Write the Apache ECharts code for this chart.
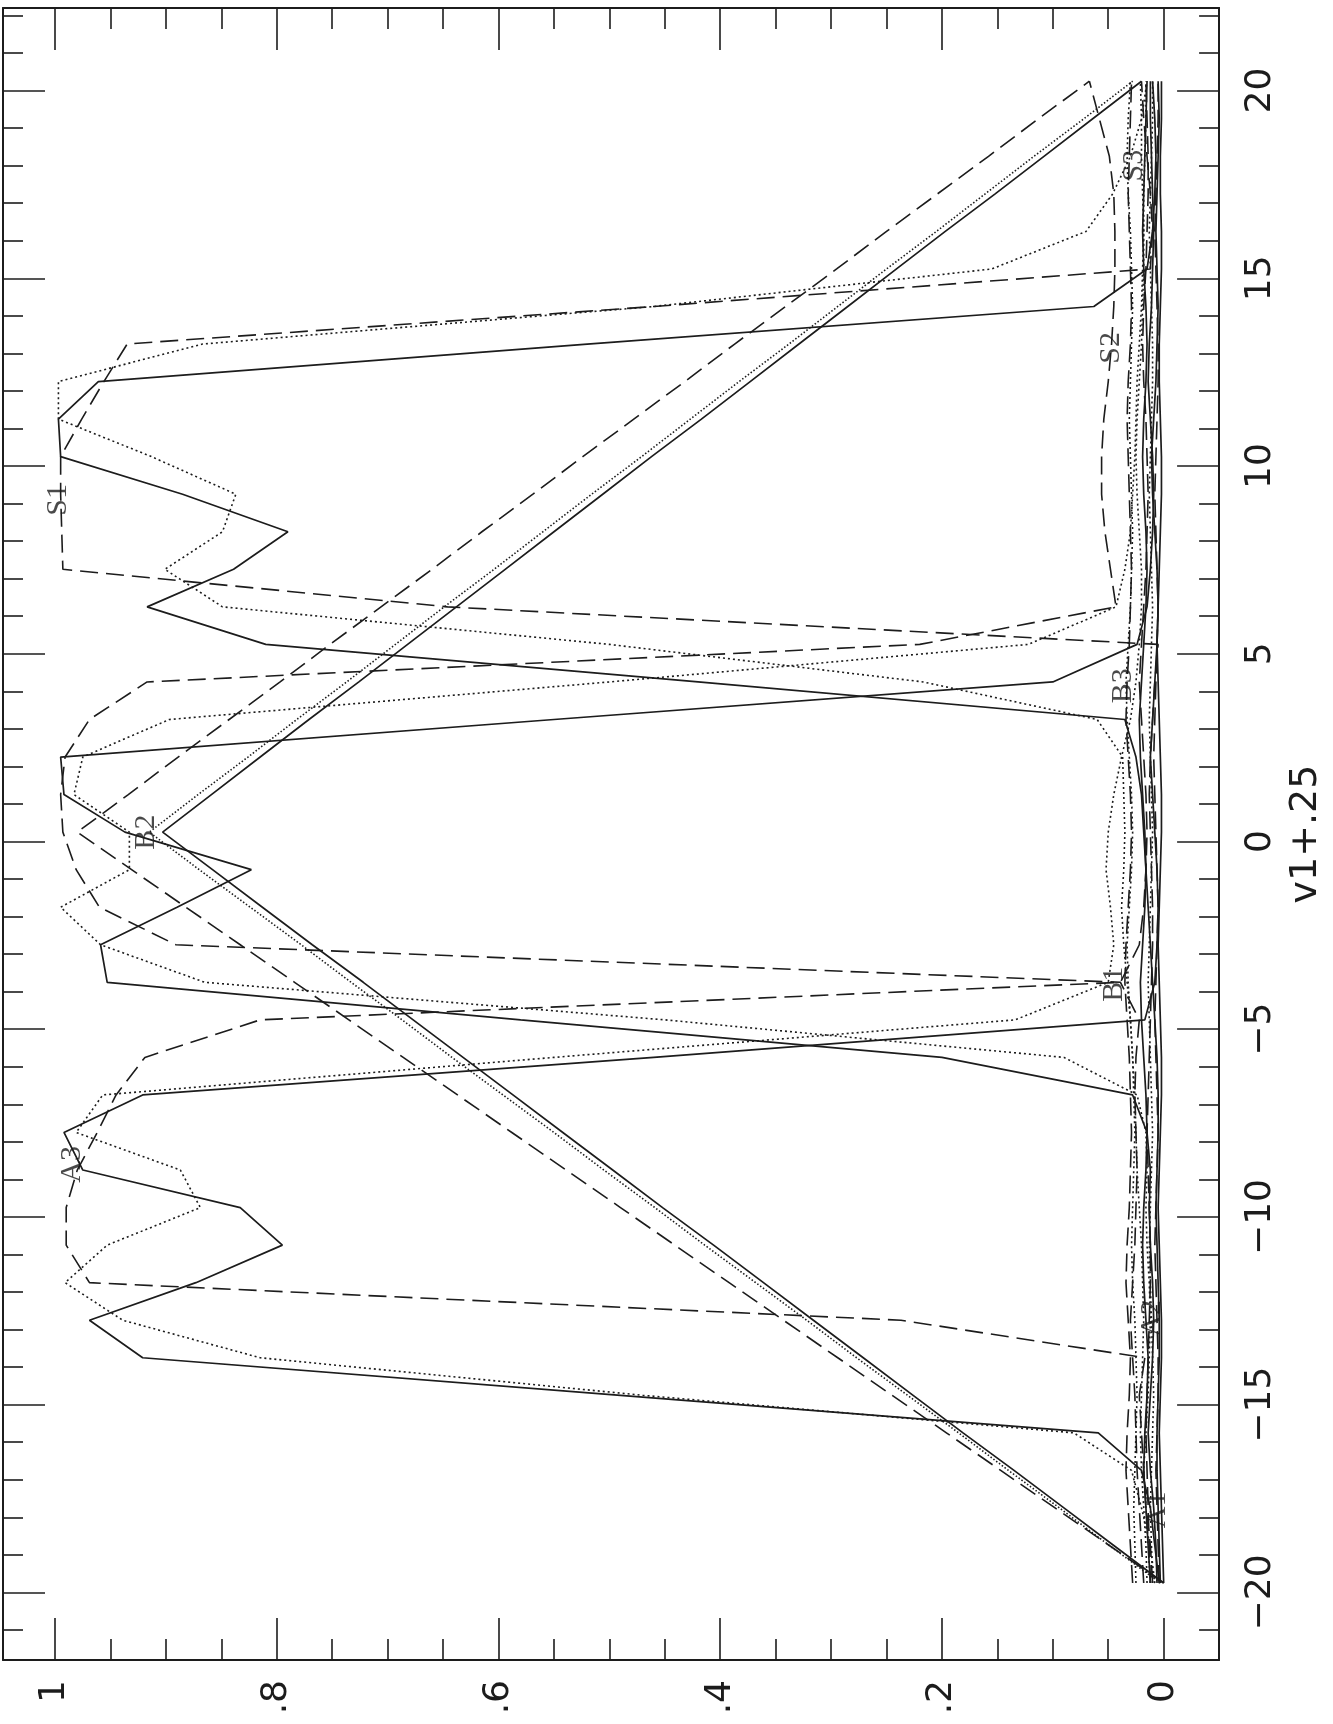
<!DOCTYPE html>
<html>
<head>
<meta charset="utf-8">
<title>v1+.25</title>
<script src="https://cdn.jsdelivr.net/npm/echarts@6/dist/echarts.min.js"></script>
<style>
  html, body { margin: 0; padding: 0; background: #fff; }
  #chart { width: 1333px; height: 1724px; }
</style>
</head>
<body>
<div id="chart"></div>
<script>
// v1 + .25 sample points (vertical axis)
const vGrid = [
  -19.75, -18.75, -17.75, -16.75, -15.75, -14.75, -13.75, -12.75, -11.75, -10.75,
  -9.75, -8.75, -7.75, -6.75, -5.75, -4.75, -3.75, -2.75, -1.75, -0.75,
  0.25, 1.25, 2.25, 3.25, 4.25, 5.25, 6.25, 7.25, 8.25, 9.25,
  10.25, 11.25, 12.25, 13.25, 14.25, 15.25, 16.25, 17.25, 18.25, 19.25, 20.25
]

// A peak
const aSolid = [
  0.004, 0.008, 0.012, 0.020, 0.059, 0.490, 0.921, 0.969, 0.873, 0.795,
  0.833, 0.975, 0.992, 0.921, 0.460, 0.017, 0.008, 0.006, 0.005, 0.006,
  0.008, 0.010, 0.012, 0.010, 0.008, 0.006, 0.005, 0.006, 0.008, 0.010,
  0.011, 0.009, 0.007, 0.006, 0.005, 0.006, 0.007, 0.006, 0.005, 0.004, 0.005
]
const aDashed = [
  0.010, 0.012, 0.016, 0.018, 0.020, 0.022, 0.017, 0.237, 0.969, 0.990,
  0.990, 0.980, 0.962, 0.945, 0.919, 0.815, 0.039, 0.022, 0.018, 0.016,
  0.015, 0.016, 0.018, 0.020, 0.022, 0.020, 0.018, 0.016, 0.015, 0.014,
  0.015, 0.016, 0.018, 0.019, 0.018, 0.016, 0.015, 0.014, 0.014, 0.015, 0.016
]
const aDotted = [
  0.008, 0.012, 0.020, 0.029, 0.081, 0.470, 0.815, 0.939, 0.991, 0.953,
  0.869, 0.887, 0.981, 0.957, 0.550, 0.134, 0.050, 0.045, 0.048, 0.052,
  0.050, 0.045, 0.038, 0.030, 0.025, 0.022, 0.020, 0.020, 0.022, 0.024,
  0.025, 0.024, 0.022, 0.020, 0.019, 0.018, 0.018, 0.019, 0.020, 0.020, 0.021
]

// B peak
const bSolid = [
  0.006, 0.007, 0.009, 0.012, 0.014, 0.012, 0.010, 0.009, 0.010, 0.012,
  0.013, 0.012, 0.015, 0.028, 0.200, 0.580, 0.953, 0.959, 0.890, 0.823,
  0.937, 0.992, 0.995, 0.550, 0.100, 0.024, 0.015, 0.012, 0.010, 0.009,
  0.010, 0.012, 0.014, 0.013, 0.011, 0.010, 0.009, 0.010, 0.011, 0.012, 0.012
]
const bDashed = [
  0.018, 0.020, 0.022, 0.024, 0.025, 0.026, 0.028, 0.030, 0.028, 0.026,
  0.025, 0.024, 0.025, 0.026, 0.025, 0.022, 0.039, 0.891, 0.960, 0.981,
  0.993, 0.995, 0.991, 0.969, 0.917, 0.220, 0.043, 0.048, 0.053, 0.056,
  0.056, 0.054, 0.050, 0.047, 0.045, 0.044, 0.044, 0.045, 0.049, 0.058, 0.067
]
const bDotted = [
  0.012, 0.014, 0.016, 0.018, 0.016, 0.014, 0.013, 0.012, 0.013, 0.015,
  0.016, 0.015, 0.016, 0.024, 0.090, 0.450, 0.865, 0.959, 0.995, 0.933,
  0.933, 0.983, 0.975, 0.897, 0.500, 0.122, 0.043, 0.035, 0.030, 0.028,
  0.026, 0.025, 0.024, 0.022, 0.020, 0.019, 0.018, 0.018, 0.017, 0.016, 0.016
]

// S peak
const sSolid = [
  0.003, 0.004, 0.005, 0.006, 0.006, 0.005, 0.004, 0.004, 0.005, 0.006,
  0.007, 0.006, 0.005, 0.005, 0.006, 0.008, 0.010, 0.012, 0.014, 0.016,
  0.018, 0.020, 0.025, 0.035, 0.420, 0.810, 0.917, 0.839, 0.790, 0.885,
  0.995, 0.997, 0.961, 0.520, 0.063, 0.015, 0.010, 0.008, 0.007, 0.008, 0.010
]
const sDashed = [
  0.012, 0.013, 0.014, 0.015, 0.016, 0.015, 0.014, 0.013, 0.012, 0.012,
  0.013, 0.014, 0.015, 0.014, 0.013, 0.012, 0.011, 0.010, 0.010, 0.011,
  0.012, 0.013, 0.012, 0.010, 0.008, 0.005, 0.646, 0.993, 0.994, 0.995,
  0.995, 0.976, 0.956, 0.935, 0.460, 0.012, 0.010, 0.012, 0.015, 0.018, 0.020
]
const sDotted = [
  0.015, 0.016, 0.018, 0.020, 0.021, 0.020, 0.019, 0.018, 0.019, 0.020,
  0.022, 0.024, 0.025, 0.026, 0.028, 0.030, 0.033, 0.036, 0.038, 0.036,
  0.035, 0.036, 0.037, 0.060, 0.217, 0.500, 0.849, 0.901, 0.849, 0.837,
  0.913, 0.997, 0.997, 0.867, 0.460, 0.155, 0.070, 0.046, 0.030, 0.020, 0.015
]

// triangles peaking at v = .25
const triSolid = [
  0.000, 0.045, 0.090, 0.135, 0.181, 0.226, 0.271, 0.316, 0.361, 0.406,
  0.452, 0.497, 0.542, 0.587, 0.632, 0.677, 0.722, 0.768, 0.813, 0.858,
  0.903, 0.859, 0.815, 0.771, 0.726, 0.682, 0.638, 0.594, 0.550, 0.506,
  0.462, 0.417, 0.373, 0.329, 0.285, 0.241, 0.197, 0.152, 0.108, 0.064, 0.020
]
const triDashed = [
  0.000, 0.049, 0.098, 0.147, 0.196, 0.245, 0.294, 0.343, 0.392, 0.441,
  0.490, 0.539, 0.588, 0.637, 0.686, 0.735, 0.784, 0.833, 0.882, 0.931,
  0.980, 0.934, 0.889, 0.843, 0.797, 0.752, 0.706, 0.660, 0.615, 0.569,
  0.524, 0.478, 0.432, 0.387, 0.341, 0.295, 0.250, 0.204, 0.158, 0.113, 0.067
]
const triDotted = [
  0.003, 0.049, 0.094, 0.140, 0.185, 0.231, 0.277, 0.322, 0.368, 0.414,
  0.459, 0.505, 0.550, 0.596, 0.642, 0.687, 0.733, 0.778, 0.824, 0.870,
  0.915, 0.871, 0.826, 0.782, 0.737, 0.693, 0.649, 0.604, 0.560, 0.516,
  0.471, 0.427, 0.383, 0.338, 0.294, 0.250, 0.205, 0.161, 0.117, 0.072, 0.028
]

// low curves near zero
const lowSolid1 = [
  0.000, 0.001, 0.002, 0.003, 0.004, 0.003, 0.002, 0.002, 0.003, 0.004,
  0.005, 0.004, 0.003, 0.002, 0.002, 0.003, 0.004, 0.005, 0.004, 0.003,
  0.002, 0.002, 0.003, 0.004, 0.005, 0.006, 0.005, 0.004, 0.003, 0.002,
  0.002, 0.003, 0.004, 0.004, 0.003, 0.002, 0.002, 0.003, 0.003, 0.002, 0.002
]
const lowSolid2 = [
  0.012, 0.014, 0.016, 0.018, 0.017, 0.015, 0.014, 0.016, 0.018, 0.019,
  0.018, 0.016, 0.015, 0.016, 0.018, 0.020, 0.021, 0.019, 0.017, 0.016,
  0.017, 0.019, 0.021, 0.022, 0.020, 0.018, 0.016, 0.015, 0.016, 0.018,
  0.019, 0.018, 0.016, 0.015, 0.016, 0.018, 0.019, 0.018, 0.017, 0.016, 0.015
]
const lowDashed1 = [
  0.028, 0.030, 0.032, 0.034, 0.033, 0.031, 0.030, 0.032, 0.034, 0.033,
  0.031, 0.030, 0.029, 0.030, 0.031, 0.033, 0.035, 0.034, 0.032, 0.030,
  0.029, 0.030, 0.032, 0.034, 0.033, 0.031, 0.030, 0.029, 0.030, 0.031,
  0.032, 0.033, 0.032, 0.030, 0.029, 0.030, 0.031, 0.032, 0.031, 0.030, 0.029
]
const lowDashed2 = [
  0.004, 0.005, 0.006, 0.007, 0.006, 0.005, 0.005, 0.006, 0.007, 0.008,
  0.007, 0.006, 0.005, 0.006, 0.007, 0.008, 0.007, 0.006, 0.005, 0.006,
  0.007, 0.008, 0.009, 0.008, 0.007, 0.006, 0.005, 0.006, 0.007, 0.008,
  0.007, 0.006, 0.005, 0.005, 0.006, 0.007, 0.008, 0.007, 0.006, 0.005, 0.005
]
const lowDotted1 = [
  0.025, 0.026, 0.027, 0.026, 0.025, 0.024, 0.025, 0.026, 0.028, 0.029,
  0.028, 0.027, 0.026, 0.027, 0.028, 0.030, 0.032, 0.033, 0.031, 0.029,
  0.028, 0.029, 0.031, 0.033, 0.034, 0.032, 0.030, 0.029, 0.028, 0.029,
  0.030, 0.031, 0.030, 0.029, 0.028, 0.029, 0.030, 0.032, 0.033, 0.032, 0.030
]
const lowDotted2 = [
  0.010, 0.011, 0.012, 0.011, 0.010, 0.009, 0.010, 0.011, 0.012, 0.013,
  0.012, 0.011, 0.010, 0.011, 0.012, 0.013, 0.014, 0.013, 0.012, 0.011,
  0.010, 0.011, 0.012, 0.013, 0.012, 0.011, 0.010, 0.011, 0.012, 0.013,
  0.012, 0.011, 0.010, 0.010, 0.011, 0.012, 0.013, 0.012, 0.011, 0.010, 0.010
]

// curve labels: [text, value, v]
const curveLabels = [
  ['A1', 0.006, -17.8],
  ['A2', 0.010, -12.7],
  ['A3', 0.985, -8.6],
  ['B1', 0.045, -3.8],
  ['B2', 0.918, 0.25],
  ['B3', 0.037, 4.15],
  ['S1', 0.997, 9.1],
  ['S2', 0.047, 13.15],
  ['S3', 0.027, 18.0]
]

// ticks
const valueTicks = [0, 0.2, 0.4, 0.6, 0.8, 1]
const valueTickLabels = ['0', '.2', '.4', '.6', '.8', '1']
const valueMinorTicks = [0.05, 0.1, 0.15, 0.25, 0.3, 0.35, 0.45, 0.5, 0.55, 0.65, 0.7, 0.75, 0.85, 0.9, 0.95]
const vTicks = [-20, -15, -10, -5, 0, 5, 10, 15, 20]
const vTickLabels = ['\u221220', '\u221215', '\u221210', '\u22125', '0', '5', '10', '15', '20']
const vMinorTicks = [-21, -19, -18, -17, -16, -14, -13, -12, -11, -9, -8, -7, -6, -4, -3, -2, -1,
  1, 2, 3, 4, 6, 7, 8, 9, 11, 12, 13, 14, 16, 17, 18, 19, 21, 22]

const ink = '#1c1c1c'
const dashed = [18, 8]
const dotted = [2, 3]

const curves = [
  [aSolid, 'solid'], [aDashed, dashed], [aDotted, dotted],
  [bSolid, 'solid'], [bDashed, dashed], [bDotted, dotted],
  [sSolid, 'solid'], [sDashed, dashed], [sDotted, dotted],
  [triSolid, 'solid'], [triDashed, dashed], [triDotted, [1.5, 2]],
  [lowSolid1, 'solid'], [lowSolid2, 'solid'],
  [lowDashed1, dashed], [lowDashed2, dashed],
  [lowDotted1, dotted], [lowDotted2, dotted]
]

const xRange = { min: -0.05, max: 1.047 }
const yRange = { min: -21.8, max: 22.2 }
const tickFont = { fontFamily: 'DejaVu Sans', fontSize: 36, color: ink }

function valueAxis(position, values, length, withLabels) {
  return {
    type: 'value',
    position: position,
    inverse: true,
    min: xRange.min,
    max: xRange.max,
    splitLine: { show: false },
    axisLine: { show: withLabels !== null, onZero: false, lineStyle: { color: ink, width: 2 } },
    axisTick: { show: true, inside: true, length: length, customValues: values, lineStyle: { color: ink, width: 1.6 } },
    axisLabel: withLabels ? Object.assign({
      show: true,
      customValues: valueTicks,
      rotate: 90,
      margin: 20,
      formatter: function (val) {
        const i = valueTicks.findIndex(function (t) { return Math.abs(t - val) < 1e-6 })
        return i >= 0 ? valueTickLabels[i] : ''
      }
    }, tickFont) : { show: false }
  }
}

function vAxis(position, values, length, withLabels) {
  const axis = {
    type: 'value',
    position: position,
    min: yRange.min,
    max: yRange.max,
    splitLine: { show: false },
    axisLine: { show: withLabels !== null, onZero: false, lineStyle: { color: ink, width: 2 } },
    axisTick: { show: true, inside: true, length: length, customValues: values, lineStyle: { color: ink, width: 1.6 } },
    axisLabel: withLabels ? Object.assign({
      show: true,
      customValues: vTicks,
      rotate: 90,
      margin: 24,
      formatter: function (val) {
        const i = vTicks.findIndex(function (t) { return Math.abs(t - val) < 1e-6 })
        return i >= 0 ? vTickLabels[i] : ''
      }
    }, tickFont) : { show: false }
  }
  if (withLabels) {
    axis.name = 'v1+.25'
    axis.nameLocation = 'middle'
    axis.nameRotate = 90
    axis.nameGap = 58
    axis.nameTextStyle = { fontFamily: 'DejaVu Sans', fontSize: 38, color: ink }
  }
  return axis
}

const series = curves.map(function (c) {
  return {
    type: 'line',
    xAxisIndex: 0,
    yAxisIndex: 0,
    symbol: 'none',
    silent: true,
    data: vGrid.map(function (v, i) { return [c[0][i], v] }),
    lineStyle: { color: ink, width: c[1] === 'solid' ? 1.7 : 1.6, type: c[1] }
  }
})

series.push({
  type: 'scatter',
  xAxisIndex: 0,
  yAxisIndex: 0,
  symbolSize: 0,
  silent: true,
  data: curveLabels.map(function (l) { return { name: l[0], value: [l[1], l[2]] } }),
  label: {
    show: true,
    position: 'inside',
    formatter: '{b}',
    rotate: 90,
    fontFamily: 'Liberation Serif',
    fontSize: 30,
    color: ink
  }
})

const option = {
  backgroundColor: '#fff',
  animation: false,
  grid: { left: 3, top: 8, right: 101, bottom: 64, containLabel: false },
  xAxis: [
    valueAxis('bottom', valueTicks, 42, true),
    valueAxis('bottom', valueMinorTicks, 21, null),
    valueAxis('top', valueTicks, 42, false),
    valueAxis('top', valueMinorTicks, 21, null)
  ],
  yAxis: [
    vAxis('right', vTicks, 42, true),
    vAxis('right', vMinorTicks, 20, null),
    vAxis('left', vTicks, 42, false),
    vAxis('left', vMinorTicks, 20, null)
  ],
  series: series
}

const chart = echarts.init(document.getElementById('chart'), null, { renderer: 'canvas' })
chart.setOption(option)
window.addEventListener('resize', function () { chart.resize() })
</script>
</body>
</html>
